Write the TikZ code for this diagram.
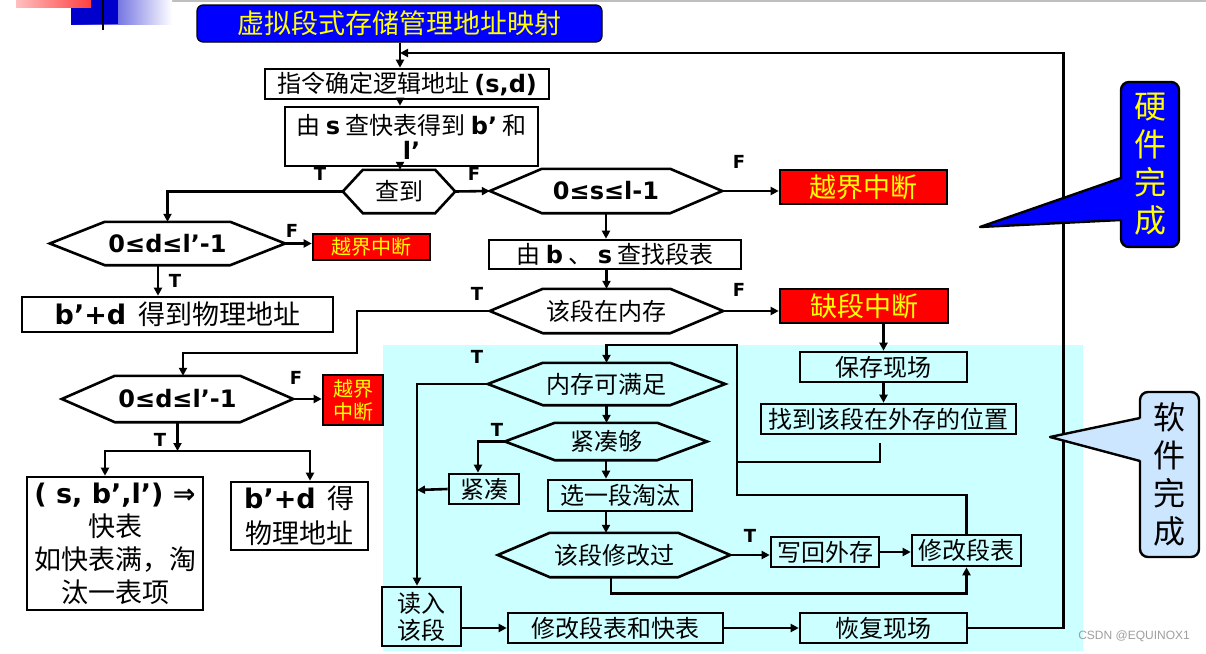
\documentclass[tikz,border=0pt]{standalone}
\usepackage{fontspec}
\setmainfont{Noto Sans CJK SC}
\newfontfamily\lat{DejaVu Sans}
\newfontfamily\wmfont{Liberation Sans}
\usetikzlibrary{arrows.meta,calc}
\definecolor{bgcyan}{RGB}{204,255,255}
\definecolor{swblue}{RGB}{204,230,255}
\definecolor{ttlblue}{RGB}{0,0,255}
\definecolor{ylw}{RGB}{255,255,0}
\newcommand\enb[1]{{\lat\bfseries #1}}
\newcommand\fsz[2]{\fontsize{#1}{#2}\selectfont}
\newcommand\hexnode[6]{%
  \node[hexin, minimum width=#3pt, minimum height=#4pt] (#1) at (#2) {#6};
  \draw[ln] (#1.north west) -- (#1.north east) -- ([xshift=#5pt]#1.east) -- (#1.south east) -- (#1.south west) -- ([xshift=-#5pt]#1.west) -- cycle;
  \coordinate (#1-l) at ([xshift=-#5pt]#1.west);
  \coordinate (#1-r) at ([xshift=#5pt]#1.east);
}
\begin{document}
\begin{tikzpicture}[x=1pt,y=-1pt,
 ln/.style={line width=2.6pt},
 box/.style={draw, line width=2.6pt, inner sep=0pt, align=center, font=\fsz{24}{28}},
 hexin/.style={inner sep=0pt, align=center, font=\fsz{24}{28}},
 redbox/.style={box, fill=red, text=ylw, font=\fsz{27}{30}},
 arr/.style={line width=2.6pt, -{Triangle[length=8pt,width=8pt]}},
 tf/.style={font=\lat\bfseries\fsz{18}{20}, inner sep=0pt},
 callout/.style={draw, line width=2.4pt, rounded corners=8pt, inner sep=0pt, align=center, font=\fsz{32}{38}},
]
\useasboundingbox (0,0) rectangle (1206,653);
\fill[white] (0,0) rectangle (1206,653);
% decorations
\draw[gray!50, line width=1.5pt] (57,0.8) -- (1206,0.8);
\shade[left color=ttlblue!80!black, right color=white] (71,0) rectangle (172,24);
\fill[ttlblue!80!black] (71,0) rectangle (118,24);
\shade[left color=red!25, right color=red!75] (16,0) rectangle (91,7);
\draw[line width=2pt] (103,0) -- (103,30);
% software area
\fill[bgcyan] (383,345) rectangle (1083,651);

% title
\node[draw=black, line width=1.2pt, fill=ttlblue, rounded corners=6pt, minimum width=405pt, minimum height=37pt, text=ylw, font=\fsz{27}{30}, inner sep=0pt] (title) at (399.5,23.5) {虚拟段式存储管理地址映射};

% upper part
\node[box, minimum width=284pt, minimum height=30pt] (b1) at (407,84) {指令确定逻辑地址 \enb{(s,d)}};
\node[box, minimum width=253pt, minimum height=59pt, font=\fsz{24}{25}] (b2) at (411.5,136.5) {由 \enb{s} 查快表得到 \enb{b’} 和\\\enb{l’}};
\hexnode{chadao}{399,191.5}{72}{43}{20}{查到}
\hexnode{h2}{167.5,243.5}{125}{43}{55}{\enb{0≤d≤l’-1}}
\node[redbox, minimum width=117pt, minimum height=26pt, font=\fsz{20}{23}] (r1) at (371.5,247) {越界中断};
\node[box, minimum width=311pt, minimum height=35pt, font=\fsz{27}{30}] (p1) at (177.5,314.5) {\enb{b’+d}\ \ 得到物理地址};
\hexnode{h3}{606,191}{128}{44}{52}{\enb{0≤s≤l-1}}
\node[redbox, minimum width=167pt, minimum height=34pt] (r2) at (863.5,187) {越界中断};
\node[box, minimum width=252pt, minimum height=29pt] (b3) at (615,254.5) {由 \enb{b} 、 \enb{s} 查找段表};
\hexnode{h4}{606.5,311}{127}{44}{53}{该段在内存}
\node[redbox, minimum width=168pt, minimum height=34pt] (r3) at (864,306) {缺段中断};
\hexnode{h5}{177.5,399}{125}{46}{53}{\enb{0≤d≤l’-1}}
\node[redbox, minimum width=60pt, minimum height=50pt, font=\fsz{20}{23}] (r4) at (353,400) {越界\\中断};
\node[box, minimum width=176pt, minimum height=133pt, font=\fsz{27}{33}] (b5) at (115,543.5) {\enb{( s, b’,l’) ⇒}\\快表\\如快表满，淘\\汰一表项};
\node[box, minimum width=137pt, minimum height=68pt, font=\fsz{27}{35}] (b6) at (299.5,516) {\enb{b’+d}\ \ 得\\物理地址};

% software part
\node[box, minimum width=167pt, minimum height=30pt] (save) at (883.5,367) {保存现场};
\node[box, minimum width=255pt, minimum height=30pt] (fpos) at (888.5,419) {找到该段在外存的位置};
\hexnode{h6}{606.5,384}{127}{42}{55}{内存可满足}
\hexnode{h7}{606,441.5}{102}{37}{50}{紧凑够}
\node[box, minimum width=70pt, minimum height=30pt] (cmp) at (484,489) {紧凑};
\node[box, minimum width=144pt, minimum height=31pt] (pick) at (620,495.5) {选一段淘汰};
\hexnode{h8}{614,555}{128}{44}{52}{该段修改过}
\node[box, minimum width=108pt, minimum height=30pt] (wb) at (825,552) {写回外存};
\node[box, minimum width=109pt, minimum height=31pt] (mt) at (966.5,550.5) {修改段表};
\node[box, minimum width=79pt, minimum height=59pt, font=\fsz{24}{27}] (rd) at (421.5,616.5) {读入\\该段};
\node[box, minimum width=215pt, minimum height=30pt] (mtq) at (615.5,628) {修改段表和快表};
\node[box, minimum width=167pt, minimum height=30pt] (rs) at (883.5,628) {恢复现场};

% T/F labels
\node[tf] (t1) at (320,174) {T};
\node[tf] (f1) at (474,174) {F};
\node[tf] (f2) at (292,231) {F};
\node[tf] (t2) at (175,281) {T};
\node[tf] (f3) at (739,162) {F};
\node[tf] (t4) at (477,294) {T};
\node[tf] (f4) at (739,290) {F};
\node[tf] (f5) at (296,378) {F};
\node[tf] (t5) at (160,440) {T};
\node[tf] (t6) at (477,357) {T};
\node[tf] (t7) at (497,430) {T};
\node[tf] (t8) at (750,536) {T};

% connectors
\coordinate (m0) at (400,53);
\draw[arr] (title.south -| m0) -- (b1.north -| m0);
\draw[arr] (b1.south -| m0) -- (b2.north -| m0);
\draw[arr] (b2.south -| m0) -- (chadao.north -| m0);
\draw[arr] (chadao-l) -| (h2.north);
\draw[arr] (h2-r) -- (h2-r -| r1.west);
\draw[arr] ([xshift=-9.5pt]h2.south) -- ([xshift=-9.5pt]h2.south |- p1.north);
\draw[arr] (chadao-r) -- (h3-l);
\draw[arr] (h3-r) -- (h3-r -| r2.west);
\draw[arr] (h3.south) -- (h3.south |- b3.north);
\draw[arr] (h4.north |- b3.south) -- (h4.north);
\draw[arr] (h4-r) -- (h4-r -| r3.west);
\coordinate (k1) at (357,353);
\draw[arr] (h4-l) -| (k1) -| ([xshift=5.5pt]h5.north);
\draw[arr] (h5-r) -- (h5-r -| r4.west);
\coordinate (sp) at (177.5,451);
\draw[arr] (h5.south) -- (sp);
\draw[arr] (sp) -| ([xshift=-10pt]b5.north);
\draw[arr] (sp) -| ([xshift=10.5pt]b6.north);

\draw[arr] (r3.south -| save.north) -- (save.north);
\draw[arr] (save.south) -- (save.south |- fpos.north);
\coordinate (fp) at (880,443);
\coordinate (k2) at (737,462);
\coordinate (k3) at (737,495);
\coordinate (k4) at (737,345);
\draw[ln] (fp) |- (k2);
\draw[arr] (mt.north) |- (k3) -- (k4) -| (h6.north);
\draw[arr] (h6.south) -- (h6.south |- h7.north);
\draw[arr] (h6-l) -| ([xshift=-4.5pt]rd.north);
\draw[arr] (h7-l) -| ([xshift=-6pt]cmp.north);
\coordinate (vx) at (417,490);
\draw[arr] (cmp.west) -- (vx);
\draw[arr] (h7.south) -- (h7.south |- pick.north);
\draw[arr] (h7.south |- pick.south) -- (h7.south |- h8.north);
\draw[arr] (h8-r) -- (h8-r -| wb.west);
\draw[arr] (wb.east) -- (wb.east -| mt.west);
\draw[arr] ([xshift=-3pt]h8.south) -- ++(0,16) -| (mt.south);
\draw[arr] (rd.east |- mtq.west) -- (mtq.west);
\draw[arr] (mtq.east) -- (rs.west);
\draw[arr] (rs.east) -- ++(95,0) |- (m0);

% callouts
\node[callout, fill=ttlblue, text=ylw, minimum width=58pt, minimum height=165pt] (hw) at (1150,164.5) {硬\\件\\完\\成};
\fill[ttlblue] (1124,178) -- (980,227) -- (1124,220) -- cycle;
\draw[line width=2.4pt, line join=round] (1121,178) -- (980,227) -- (1121,220);
\node[callout, fill=swblue, minimum width=59pt, minimum height=165pt] (sw) at (1169.5,474.5) {软\\件\\完\\成};
\fill[swblue] (1143,418) -- (1050,437) -- (1143,461) -- cycle;
\draw[line width=2.4pt, line join=round] (1140,418) -- (1050,437) -- (1140,461);

% watermark
\node[text=gray!75, font=\wmfont\fsz{12}{14}, inner sep=0pt] (wmk) at (1134,636) {CSDN @EQUINOX1};
\end{tikzpicture}
\end{document}
